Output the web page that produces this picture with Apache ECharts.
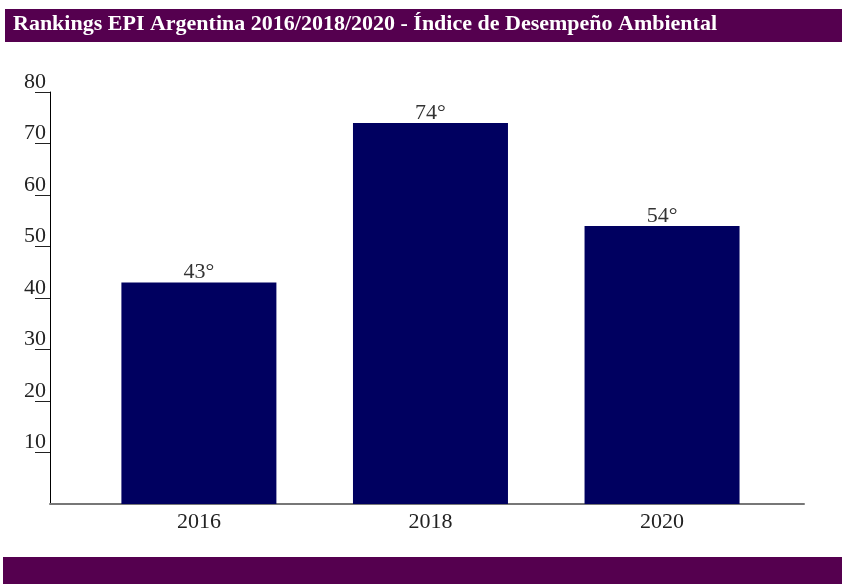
<!DOCTYPE html>
<html>
<head>
    <meta charset="utf-8">
    <title>Rankings EPI Argentina</title>
    <script src="https://cdn.jsdelivr.net/npm/echarts@6/dist/echarts.min.js"></script>
    <style>
        body { margin: 0; background: #fff; }
        #main { width: 843px; height: 584px; }
    </style>
</head>
<body>
<div id="main"></div>
<script>
// datos
var years = ['2016', '2018', '2020'];
var ranks = [43, 74, 54];
var yTicks = [10, 20, 30, 40, 50, 60, 70, 80];

var serif = '"Liberation Serif", "DejaVu Serif", serif';
var purple = '#55004f';

var myChart = echarts.init(document.getElementById('main'));

var barData = [];
for (var i = 0; i < years.length; i++) {
    barData.push([i, ranks[i]]);
}

var option = {
    animation: false,
    backgroundColor: '#fff',
    graphic: [
        { type: 'rect', shape: { x: 5, y: 9, width: 837, height: 33 }, style: { fill: purple } },
        { type: 'rect', shape: { x: 3, y: 557, width: 839, height: 27 }, style: { fill: purple } },
        {
            type: 'text', left: 13, top: 13,
            style: {
                text: 'Rankings EPI Argentina 2016/2018/2020 - Índice de Desempeño Ambiental',
                fill: '#fff', font: 'bold 22px ' + serif
            }
        }
    ],
    grid: { left: 50, right: 39, top: 92, bottom: 80, containLabel: false },
    xAxis: {
        type: 'value',
        min: -0.643,
        max: 2.613,
        axisLine: { show: true, onZero: false, lineStyle: { color: '#777', width: 2 } },
        axisTick: { show: false },
        splitLine: { show: false },
        axisLabel: {
            customValues: [0, 1, 2],
            formatter: function (v) { return years[Math.round(v)]; },
            color: '#222',
            fontFamily: serif,
            fontSize: 22,
            margin: 7
        }
    },
    yAxis: {
        type: 'value',
        min: 0,
        max: 80,
        interval: 10,
        splitLine: { show: false },
        axisLine: { show: true, onZero: false, lineStyle: { color: '#000', width: 1 } },
        axisTick: { show: true, customValues: yTicks, length: 15, lineStyle: { color: '#222' } },
        axisLabel: {
            customValues: yTicks,
            color: '#222',
            fontFamily: serif,
            fontSize: 22,
            margin: 4,
            verticalAlign: 'bottom',
            lineHeight: 20
        }
    },
    series: [{
        type: 'bar',
        data: barData,
        barWidth: 155,
        itemStyle: { color: '#000060' },
        label: {
            show: true,
            position: 'top',
            distance: 0,
            lineHeight: 20,
            color: '#333',
            fontFamily: serif,
            fontSize: 22,
            formatter: function (p) { return p.value[1] + '°'; }
        }
    }]
};

myChart.setOption(option);
</script>
</body>
</html>
